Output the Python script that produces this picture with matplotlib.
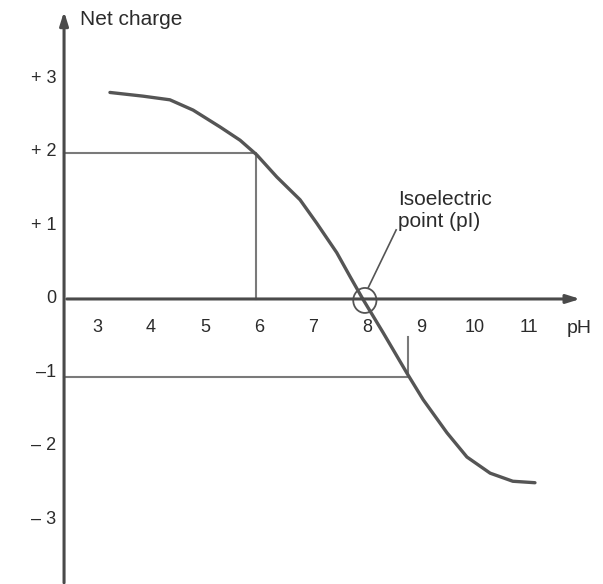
import matplotlib.pyplot as plt
from matplotlib.patches import Ellipse

plt.rcParams['font.family'] = ['Liberation Sans', 'DejaVu Sans']

# curve (pH, net charge)
ph = [3.24, 3.85, 4.35, 4.78, 5.28, 5.65, 5.96, 6.33, 6.76, 7.07, 7.44, 7.69,
      7.93, 8.30, 8.74, 9.04, 9.48, 9.85, 10.28, 10.70, 11.11]
charge = [2.81, 2.76, 2.71, 2.57, 2.34, 2.16, 1.96, 1.66, 1.35, 1.03, 0.63, 0.30,
          -0.01, -0.46, -1.01, -1.37, -1.82, -2.15, -2.37, -2.48, -2.50]

x_ticks = [3, 4, 5, 6, 7, 8, 9, 10, 11]
y_ticks = [3, 2, 1, 0, -1, -2, -3]
y_labels = ['+ 3', '+ 2', '+ 1', '0', '\u20131', '\u2013 2', '\u2013 3']

# guide lines: (pH, charge) pairs
guide_pos = (5.94, 1.98)
guide_neg = (8.76, -1.06)
pi_point = (7.96, -0.02)

x_axis = 2.39
axis_col = '#555555'
text_col = '#2b2b2b'

fig = plt.figure(figsize=(6.03, 5.84), dpi=100)
ax = fig.add_axes([0, 0, 1, 1])
ax.set_xlim(1.204, 12.37)
ax.set_ylim(-3.878, 4.068)
ax.axis('off')

# axes with arrow heads
ax.annotate('', xy=(12.0, 0), xytext=(x_axis, 0),
            arrowprops=dict(arrowstyle='-|>,head_length=0.8,head_width=0.25', color='#4a4a4a', lw=2.2))
ax.annotate('', xy=(x_axis, 3.95), xytext=(x_axis, -3.9),
            arrowprops=dict(arrowstyle='-|>,head_length=0.8,head_width=0.25', color='#4a4a4a', lw=2.2))

# guide lines
ax.plot([x_axis, guide_pos[0], guide_pos[0]], [guide_pos[1], guide_pos[1], 0], color='#7a7a7a', lw=1.5)
ax.plot([x_axis, guide_neg[0], guide_neg[0]], [guide_neg[1], guide_neg[1], -0.52], color='#7a7a7a', lw=1.5)

# titration curve
ax.plot(ph, charge, color=axis_col, lw=2.4, solid_capstyle='round', solid_joinstyle='round')

# isoelectric point marker
ax.add_patch(Ellipse(pi_point, 0.43, 0.34, fill=False, ec=axis_col, lw=1.3))
ax.plot([8.02, 8.54], [0.15, 0.94], color=axis_col, lw=1.2)
ax.text(8.57, 1.2, 'Isoelectric\npoint (pI)', fontsize=15, color=text_col,
        ha='left', va='center', linespacing=1.2)

# tick labels
for t in x_ticks:
    ax.text(t, -0.39, str(t), fontsize=13, color=text_col, ha='center', va='center')
for t, lab in zip(y_ticks, y_labels):
    ax.text(2.25, t, lab, fontsize=13, color=text_col, ha='right', va='center')

ax.text(2.69, 3.80, 'Net charge', fontsize=15, color=text_col, ha='left', va='center')
ax.text(11.93, -0.40, 'pH', fontsize=14, color=text_col, ha='center', va='center')

plt.savefig('out.png', dpi=100, facecolor='white')
